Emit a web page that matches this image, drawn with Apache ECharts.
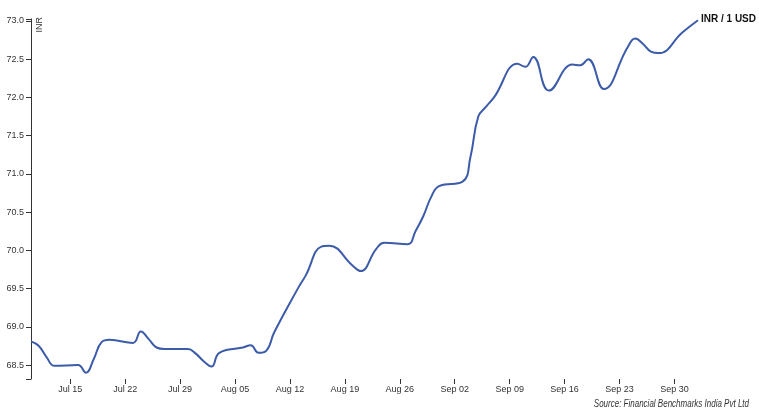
<!DOCTYPE html>
<html>
<head>
<meta charset="utf-8">
<script src="https://cdn.jsdelivr.net/npm/echarts@6/dist/echarts.min.js"></script>
<style>
html,body{margin:0;padding:0;background:#fff;}
#chart{width:759px;height:418px;}
</style>
</head>
<body>
<div id="chart"></div>
<script>
var dates = ['2018-07-10','2018-07-11','2018-07-12','2018-07-13','2018-07-16','2018-07-17','2018-07-18','2018-07-19','2018-07-20',
'2018-07-23','2018-07-24','2018-07-25','2018-07-26','2018-07-27','2018-07-30','2018-07-31','2018-08-01','2018-08-02','2018-08-03',
'2018-08-06','2018-08-07','2018-08-08','2018-08-09','2018-08-10','2018-08-13','2018-08-14','2018-08-16','2018-08-17',
'2018-08-20','2018-08-21','2018-08-23','2018-08-24','2018-08-27','2018-08-28','2018-08-29','2018-08-30','2018-08-31',
'2018-09-03','2018-09-04','2018-09-05','2018-09-06','2018-09-07','2018-09-10','2018-09-11','2018-09-12','2018-09-14',
'2018-09-17','2018-09-18','2018-09-19','2018-09-21','2018-09-24','2018-09-25','2018-09-26','2018-09-27','2018-09-28',
'2018-10-01','2018-10-03'];
var values = [68.81,68.75,68.60,68.49,68.50,68.40,68.58,68.80,68.83,
68.79,68.94,68.84,68.73,68.71,68.71,68.65,68.55,68.48,68.66,
68.73,68.76,68.66,68.69,68.93,69.50,69.67,70.05,70.06,
69.80,69.73,70.02,70.10,70.08,70.25,70.45,70.70,70.84,
70.90,71.22,71.75,71.88,72.00,72.44,72.40,72.53,72.09,
72.43,72.42,72.50,72.11,72.65,72.77,72.70,72.60,72.58,
72.85,73.01];
var xTickDates = ['2018-07-15','2018-07-22','2018-07-29','2018-08-05','2018-08-12','2018-08-19','2018-08-26','2018-09-02','2018-09-09','2018-09-16','2018-09-23','2018-09-30'];
var yTicks = [68.5,69.0,69.5,70.0,70.5,71.0,71.5,72.0,72.5,73.0];
var seriesName = 'INR / 1 USD';
var yName = 'INR';
var sourceText = 'Source: Financial Benchmarks India Pvt Ltd';

var months = ['Jan','Feb','Mar','Apr','May','Jun','Jul','Aug','Sep','Oct','Nov','Dec'];
function ts(s){var p=s.split('-');return Date.UTC(+p[0],+p[1]-1,+p[2]);}
var data = dates.map(function(d,i){return [ts(d), values[i]];});
var xTicks = xTickDates.map(ts);
var yMin = 68.318, yMax = 73.026;
var font = '"Liberation Sans", Arial, sans-serif';

var chart = echarts.init(document.getElementById('chart'));
chart.setOption({
  animation:false,
  grid:{left:31,right:61,top:19,bottom:39,outerBoundsMode:'none'},
  xAxis:{
    type:'value',
    min:ts('2018-07-10'), max:ts('2018-10-03'),
    axisLine:{show:false},
    splitLine:{show:false},
    axisTick:{show:true,length:5,lineStyle:{color:'#333',width:1},customValues:xTicks},
    axisLabel:{customValues:xTicks,color:'#333',fontSize:9,fontFamily:font,margin:6,
      formatter:function(v){var d=new Date(v);var dd=d.getUTCDate();return months[d.getUTCMonth()]+' '+(dd<10?'0'+dd:dd);}}
  },
  yAxis:{
    type:'value',min:yMin,max:yMax,
    axisLine:{show:true,lineStyle:{color:'#333',width:1}},
    splitLine:{show:false},
    axisTick:{show:true,length:5,lineStyle:{color:'#333'},customValues:[yMin].concat(yTicks).concat([yMax])},
    axisLabel:{customValues:yTicks,color:'#333',fontSize:9,fontFamily:font,margin:7,
      formatter:function(v){return v.toFixed(1);}}
  },
  series:[{
    type:'line',name:seriesName,data:data,smooth:0.45,symbol:'none',
    lineStyle:{color:'#3c5ba9',width:2},
    endLabel:{show:true,formatter:seriesName,color:'#111',fontWeight:'bold',fontSize:10,fontFamily:font,distance:3,offset:[0,-1]}
  }],
  graphic:[
    {type:'text',x:35,y:17,rotation:Math.PI/2,style:{text:yName,align:'right',verticalAlign:'top',fill:'#333',font:'9px "Liberation Sans", Arial, sans-serif'}},
    {type:'text',x:749,y:399,scaleX:0.8,style:{text:sourceText,align:'right',verticalAlign:'top',fill:'#333',font:'italic 10px "Liberation Sans", Arial, sans-serif'}}
  ]
});
</script>
</body>
</html>
